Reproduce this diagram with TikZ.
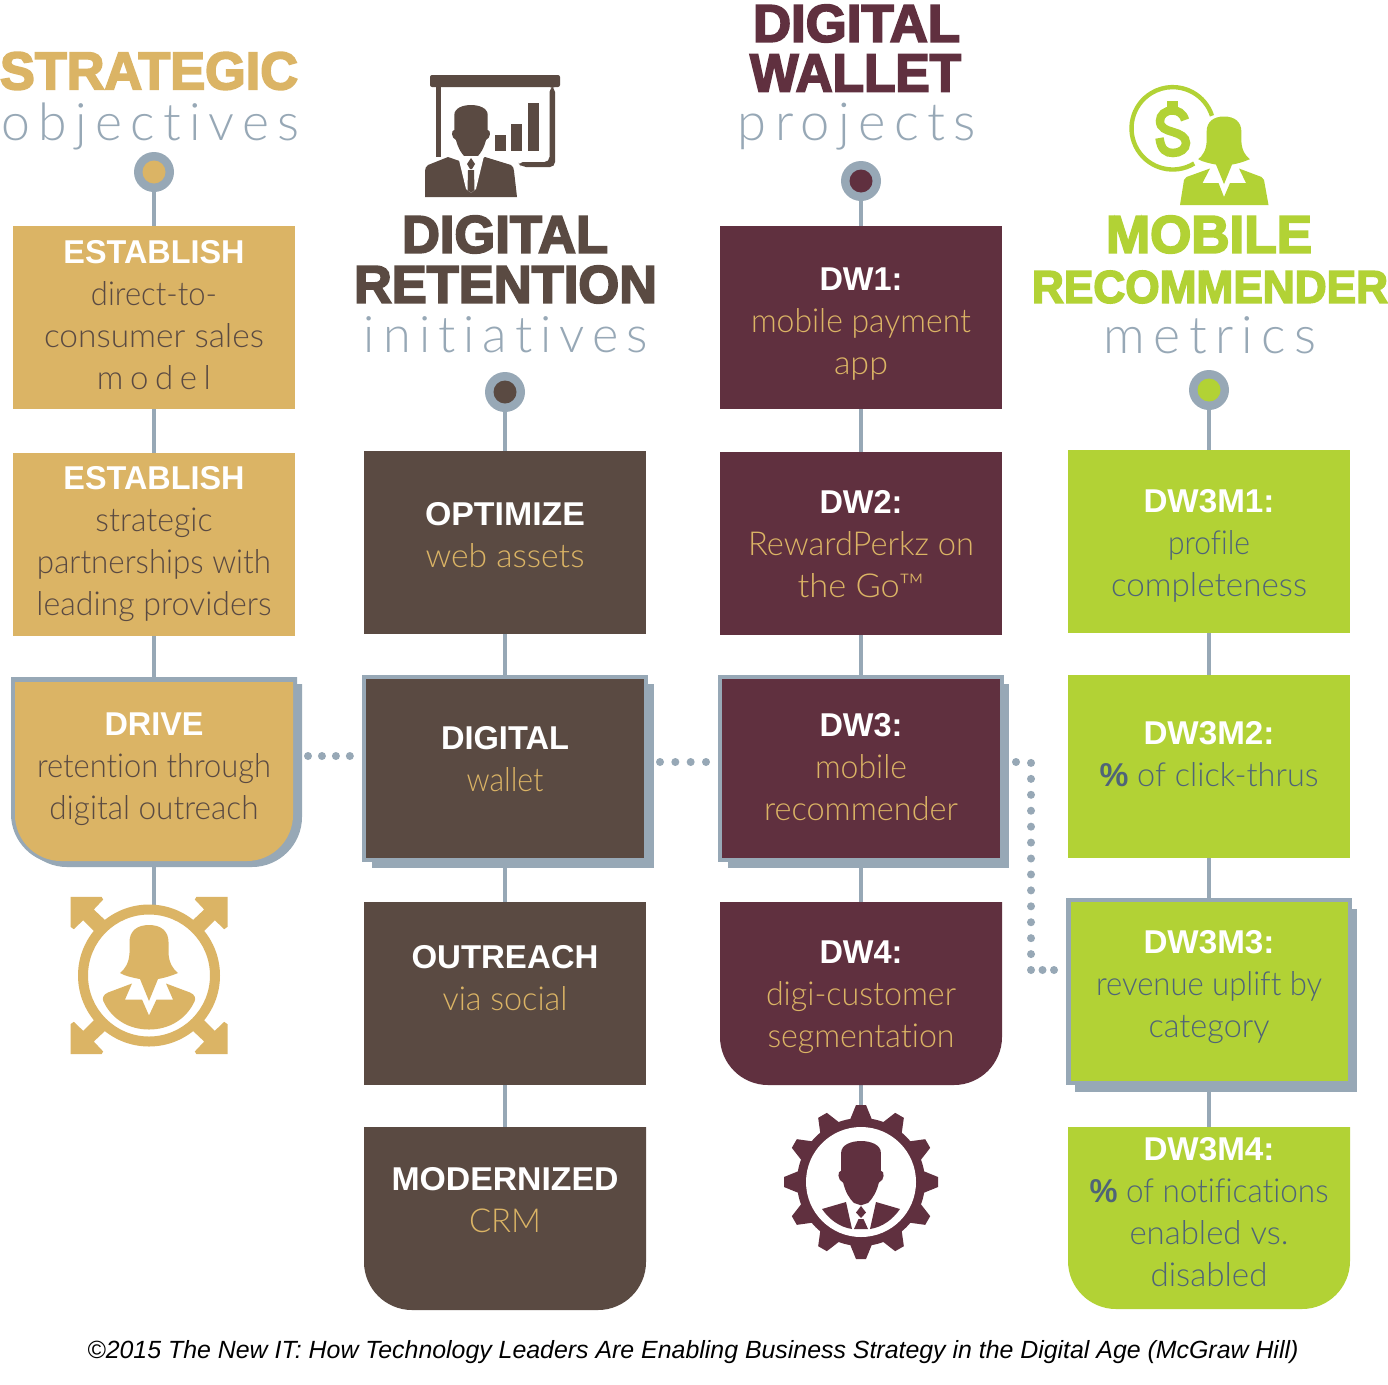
\documentclass[tikz,border=0pt]{standalone}
\usepackage{fontspec}
\usepackage{graphicx}
\setmainfont{Liberation Sans}
\newfontfamily\blk{Liberation Sans}[UprightFont=* Bold,FakeBold=3.5]
\newfontfamily\bdf{Liberation Sans}[UprightFont=* Bold]
\newfontfamily\lgt{Lato}[UprightFont=* Light,Ligatures=NoCommon]
\newfontfamily\capf{Liberation Sans}[UprightFont=* Italic]
\definecolor{gold}{HTML}{DBB465}
\definecolor{brownc}{HTML}{5A4A42}
\definecolor{maroon}{HTML}{60303F}
\definecolor{lime}{HTML}{B2D235}
\definecolor{slate}{HTML}{97A8B6}
\definecolor{steel}{HTML}{4F6478}
\newcommand{\fw}[2]{\resizebox{#1pt}{\height}{#2}}
\newcommand{\hd}[2]{\strut\fw{#1}{\bdf\fontsize{33}{42}\selectfont\color{white}#2}}
\newcommand{\ttl}[3]{\resizebox{#1pt}{#2pt}{\blk #3}}
\newcommand{\sub}[2]{\resizebox{#1pt}{!}{\lgt\addfontfeature{LetterSpace=16}#2}}
\newcommand{\pct}{{\bdf\%}}
% rounded-bottom outline: x1 x2 ytop ybot r
\newcommand{\rbot}[5]{(#1,#3) -- (#2,#3) -- (#2,{#4-#5}) .. controls (#2,{#4-0.45*#5}) and ({#2-0.45*#5},#4) .. ({#2-#5},#4) -- ({#1+#5},#4) .. controls ({#1+0.45*#5},#4) and (#1,{#4-0.45*#5}) .. (#1,{#4-#5}) -- cycle}
% head, origin at top centre of the hair
\newcommand{\manhead}{(-16.7,25) -- (-16.7,10) .. controls (-16.7,3) and (-8,0) .. (0,0) .. controls (8,0) and (16.7,3) .. (16.7,10) -- (16.7,25) .. controls (20,25) and (20,33) .. (15,35) .. controls (13,43) and (10,48) .. (6,52) -- (0,54) -- (-6,52) .. controls (-10,48) and (-13,43) .. (-15,35) .. controls (-20,33) and (-20,25) .. (-16.7,25) -- cycle}
% woman's hair and neck, origin at top centre
\newcommand{\womanhair}{(0,0) .. controls (12,0) and (19.5,6) .. (19.5,17) -- (19.5,28) .. controls (20,38) and (24,44) .. (29,48) .. controls (22,51) and (15,53) .. (9,54) -- (0,76) -- (-9,54) .. controls (-15,53) and (-24,51) .. (-29,48) .. controls (-24,44) and (-20,38) .. (-19.5,28) -- (-19.5,17) .. controls (-19.5,6) and (-12,0) .. (0,0) -- cycle}
\tikzset{
  x=1pt,y=-1pt,
  boxn/.style={rectangle,inner sep=0pt,outer sep=0pt,minimum width=#1},
  gbox/.style={boxn=282pt,minimum height=183pt,fill=gold},
  bbox/.style={boxn=282pt,minimum height=183pt,fill=brownc},
  mbox/.style={boxn=282pt,minimum height=183pt,fill=maroon},
  lbox/.style={boxn=282pt,minimum height=183pt,fill=lime},
  ghost/.style={boxn=282pt,minimum height=183pt},
  body/.style={inner sep=0pt,align=center,font=\lgt\fontsize{33}{42}\selectfont},
  gtext/.style={body,text=brownc},
  btext/.style={body,text=gold},
  ltext/.style={body,text=steel},
  link/.style={draw=slate,line width=4.5pt},
  dots/.style={draw=slate,line width=8pt,line cap=round,dash pattern=on 0pt off #1},
  pinO/.style={circle,fill=slate,minimum size=40pt,inner sep=0pt},
  pinI/.style={circle,minimum size=23pt,inner sep=0pt},
}
\begin{document}
\begin{tikzpicture}
\useasboundingbox (0,0) rectangle (1388,1384);
\fill[white] (0,0) rectangle (1388,1384);

% titles
\node[inner sep=0pt,text=gold] (t1a) at (149,71) {\ttl{298}{37}{STRATEGIC}};
\node[inner sep=0pt,text=slate] (t1b) at (150.5,126) {\sub{298}{objectives}};
\node[inner sep=0pt,text=brownc] (t2a) at (505,234.5) {\ttl{206}{37}{DIGITAL}};
\node[inner sep=0pt,text=brownc] (t2b) at (505.5,284.5) {\ttl{303}{37}{RETENTION}};
\node[inner sep=0pt,text=slate] (t2c) at (506,334.5) {\sub{284}{initiatives}};
\node[inner sep=0pt,text=maroon] (t3a) at (856.5,23.5) {\ttl{207}{37}{DIGITAL}};
\node[inner sep=0pt,text=maroon] (t3b) at (855.5,73) {\ttl{211}{37}{WALLET}};
\node[inner sep=0pt,text=slate] (t3c) at (857,127) {\sub{238}{projects}};
\node[inner sep=0pt,text=lime] (t4a) at (1209,234.5) {\ttl{206}{37}{MOBILE}};
\node[inner sep=0pt,text=lime] (t4b) at (1210,287) {\ttl{356}{32}{RECOMMENDER}};
\node[inner sep=0pt,text=slate] (t4c) at (1210,335) {\sub{212}{metrics}};

% anchor boxes of the highlighted / rounded shapes
\node[ghost] (s3) at (154,771) {};
\node[ghost] (r3) at (505,768.5) {};
\node[ghost] (d3) at (861,768.5) {};
\node[ghost] (m3) at (1209,991.5) {};
\node[ghost] (r4) at (505,1218.5) {};
\node[ghost] (d4) at (861,993.5) {};
\node[ghost] (m4) at (1209,1218) {};

% pins
\node[pinO] (p1) at (154,172) {};
\node[pinO] (p2) at (505,392) {};
\node[pinO] (p3) at (861,181) {};
\node[pinO] (p4) at (1209,390) {};

% plain boxes
\node[gbox] (s1) at (154,317.5) {};
\node[gbox] (s2) at (154,544.5) {};
\node[bbox] (r1) at (505,542.5) {};
\node[bbox] (r2) at (505,993.5) {};
\node[mbox] (d1) at (861,317.5) {};
\node[mbox] (d2) at (861,543.5) {};
\node[lbox] (m1) at (1209,541.5) {};
\node[lbox] (m2) at (1209,766.5) {};

% icon anchors
\coordinate (ringtop) at (154,906);
\coordinate (geartop) at (861,1106);

% connectors
\draw[link] (p1) -- (s1);
\draw[link] (s1) -- (s2);
\draw[link] (s2) -- (s3);
\draw[link] (s3) -- (ringtop);
\draw[link] (p2) -- (r1);
\draw[link] (r1) -- (r3);
\draw[link] (r3) -- (r2);
\draw[link] (r2) -- (r4);
\draw[link] (p3) -- (d1);
\draw[link] (d1) -- (d2);
\draw[link] (d2) -- (d3);
\draw[link] (d3) -- (d4);
\draw[link] (d4) -- (geartop);
\draw[link] (p4) -- (m1);
\draw[link] (m1) -- (m2);
\draw[link] (m2) -- (m3);
\draw[link] (m3) -- (m4);

% pin centres
\node[pinI,fill=gold] (p1i) at (p1) {};
\node[pinI,fill=brownc] (p2i) at (p2) {};
\node[pinI,fill=maroon] (p3i) at (p3) {};
\node[pinI,fill=lime] (p4i) at (p4) {};

% highlighted shapes: shadow, outline, fill
\fill[slate] \rbot{17}{302}{684}{867}{50};
\fill[slate] \rbot{11}{297}{677}{864}{50};
\fill[gold] \rbot{15}{293}{682}{861}{46};

\fill[slate] (372,684) rectangle (654,868);
\fill[slate] (362,675) rectangle (648,862);
\fill[brownc] (366,679) rectangle (644,858);

\fill[slate] (728,684) rectangle (1009,868);
\fill[slate] (718,675) rectangle (1004,862);
\fill[maroon] (722,679) rectangle (1000,858);

\fill[slate] (1075,909) rectangle (1357,1092);
\fill[slate] (1066,898) rectangle (1352,1085);
\fill[lime] (1070.5,902) rectangle (1348,1081);

% rounded boxes
\fill[brownc] \rbot{364}{646}{1127}{1310}{48};
\fill[maroon] \rbot{720}{1002}{902}{1085}{48};
\fill[lime] \rbot{1068}{1350}{1127}{1309}{48};

% dotted links
\draw[dots=13.95pt] ([shift={(13pt,15pt)}]s3.east) -- ([shift={(-14pt,12.5pt)}]r3.west);
\draw[dots=15.33pt] ([shift={(14pt,6.5pt)}]r3.east) -- ([shift={(-14pt,6.5pt)}]d3.west);
\draw[dots=15.93pt] ([shift={(14pt,6.5pt)}]d3.east) -- ++(15,0) -- ++(0,208) coordinate (dotcorner);
\draw[dots=11.5pt] (dotcorner) -- ([shift={(-14pt,21.5pt)}]m3.west);

% box texts
\node[gtext] (s1t) at (154,318) {\hd{181}{ESTABLISH}\\\fw{126}{direct-to-}\\\fw{220}{consumer sales}\\{\addfontfeature{LetterSpace=20}model}\strut};
\node[gtext] (s2t) at (154,544) {\hd{181}{ESTABLISH}\\\fw{117}{strategic}\\\fw{234}{partnerships with}\\\fw{235}{leading providers}\strut};
\node[gtext] (s3t) at (154,769) {\hd{99}{DRIVE}\\\fw{234}{retention through}\\\fw{209}{digital outreach}\strut};
\node[btext] (r1t) at (505,538) {\hd{160}{OPTIMIZE}\\\fw{159}{web assets}\strut};
\node[btext] (r3t) at (505,762) {\hd{128}{DIGITAL}\\\fw{77}{wallet}\strut};
\node[btext] (r2t) at (505,981) {\hd{187}{OUTREACH}\\\fw{125}{via social}\strut};
\node[btext] (r4t) at (505,1203) {\hd{227}{MODERNIZED}\\\fw{72}{CRM}\strut};
\node[btext] (d1t) at (861,324) {\hd{83}{DW1:}\\\fw{220}{mobile payment}\\\fw{54}{app}\strut};
\node[btext] (d2t) at (861,547) {\hd{83}{DW2:}\\\fw{226}{RewardPerkz on}\\\fw{127}{the Go\texttrademark}\strut};
\node[btext] (d3t) at (861,770) {\hd{83}{DW3:}\\\fw{92}{mobile}\\\fw{194}{recommender}\strut};
\node[btext] (d4t) at (861,997) {\hd{83}{DW4:}\\\fw{190}{digi-customer}\\\fw{187}{segmentation}\strut};
\node[ltext] (m1t) at (1209,546) {\hd{131}{DW3M1:}\\\fw{82}{profile}\\\fw{196}{completeness}\strut};
\node[ltext] (m2t) at (1209,757) {\hd{131}{DW3M2:}\\\fw{219}{\pct{} of click-thrus}\strut};
\node[ltext] (m3t) at (1209,987) {\hd{131}{DW3M3:}\\\fw{226}{revenue uplift by}\\\fw{121}{category}\strut};
\node[ltext] (m4t) at (1209,1215.5) {\hd{131}{DW3M4:}\\\fw{239}{\pct{} of notifications}\\\fw{159}{enabled vs.}\\\fw{117}{disabled}\strut};

% presentation icon
\fill[brownc,rounded corners=2pt] (430,75) rectangle (560,87);
\fill[brownc] (436,87) rectangle (441,157);
\fill[brownc,rounded corners=5pt] (549.5,87) -- (555,87) -- (555,167) -- (521,167) -- (518,162) -- (549.5,162) -- cycle;
\fill[brownc] (495,135) rectangle (506,151);
\fill[brownc] (511,124) rectangle (522,151);
\fill[brownc] (528,103) rectangle (539,151);
\begin{scope}[shift={(471,105)}]
\fill[brownc] \manhead;
\fill[brownc] (-23,52) -- (-43,60) .. controls (-45,62) and (-46,63) .. (-46,66) -- (-46,92) -- (46,92) -- (43,66) .. controls (43,63) and (42,62) .. (40,60) -- (14,52) -- (0,60) -- cycle;
\fill[white] (-13,51) -- (13,51) -- (5,84) -- (0,88) -- (-5,84) -- cycle;
\fill[brownc] (0,53) -- (4,59) -- (1,64) -- (-1,64) -- (-4,59) -- cycle;
\fill[brownc] (-3,65) -- (3,65) -- (3.5,85) -- (0,88) -- (-3.5,85) -- cycle;
\end{scope}

% gold icon
\begin{scope}[shift={(149,975.5)}]
\foreach \sx/\sy in {1/1,-1/1,1/-1,-1/-1}{
  \fill[gold,xscale=\sx,yscale=\sy] (-78.5,-78.7) -- (-47.5,-78.7) -- (-45.8,-76) -- (-55.2,-66) -- (-43.2,-54.7) -- (-54.2,-43.7) -- (-65.8,-55.3) -- (-75.2,-46.3) -- (-78.5,-48.7) -- cycle;
}
\fill[gold,even odd rule] (0,0) circle (71) (0,0) circle (61);
\begin{scope}[shift={(0,-50.5)}]
\fill[gold] \womanhair;
\end{scope}
\fill[gold] (-17,8) -- (-24,24) -- (-7,24) -- (0,40) -- (7.5,24) -- (24,24) -- (17,8) -- (41,17) .. controls (46,19) and (47,23) .. (45.5,26) .. controls (37,44) and (20,54) .. (0,54) .. controls (-20,54) and (-37,44) .. (-45.5,26) .. controls (-47,23) and (-46,19) .. (-41,17) -- cycle;
\end{scope}

% gear icon
\begin{scope}[shift={(861,1182)}]
\fill[maroon] (0,0) circle (64);
\foreach \a in {0,30,...,330}{
  \fill[maroon,rotate=\a] (-11.5,-61) -- (-5,-77) -- (5,-77) -- (11.5,-61) -- cycle;
}
\fill[white] (0,0) circle (55);
\begin{scope}[shift={(0,-41)},scale=1.19]
\fill[maroon] \manhead;
\end{scope}
\fill[maroon] (-39,27) -- (-15,20) -- (-9,47) .. controls (-22,45) and (-32,37) .. (-39,27) -- cycle;
\fill[maroon] (39,27) -- (15,20) -- (9,47) .. controls (22,45) and (32,37) .. (39,27) -- cycle;
\fill[maroon] (0,24) -- (5,30.5) -- (0,36) -- (-5,30.5) -- cycle;
\fill[maroon] (-2.5,37) -- (2.5,37) -- (7,47) -- (-7,47) -- cycle;
\end{scope}

% green icon
\draw[lime,line width=4.4pt] ([shift={(58.6:41.2)}]1172.7,128.3) arc[start angle=58.6,end angle=342.3,radius=41.2];
\draw[lime,line width=8.5pt] (1185,120) .. controls (1183,113) and (1178,110.5) .. (1172.5,110.5) .. controls (1165,110.5) and (1160,115) .. (1160,121) .. controls (1160,128) and (1166,130) .. (1173,132) .. controls (1180,134) and (1186,137) .. (1186,143) .. controls (1186,149) and (1180,153) .. (1173,153) .. controls (1166,153) and (1161,150) .. (1159.5,138);
\fill[lime] (1167,101) rectangle (1178,110);
\fill[lime] (1167,152) rectangle (1178,156);
\begin{scope}[shift={(1224,116.5)},scale=0.89]
\fill[lime] \womanhair;
\end{scope}
\fill[lime] (1210,168.5) -- (1202.5,183) -- (1218.5,183) -- (1224,197) -- (1230,183) -- (1246,183) -- (1239,168.5) -- (1261.5,177) -- (1264,180) -- (1268.5,205) -- (1180,205) -- (1184,180) -- (1186.5,177) -- cycle;

% caption
\node[inner sep=0pt,text=black] (cap) at (693,1352) {\resizebox{1211pt}{!}{\capf\fontsize{26}{30}\selectfont ©2015 The New IT: How Technology Leaders Are Enabling Business Strategy in the Digital Age (McGraw Hill)}};
\end{tikzpicture}
\end{document}
